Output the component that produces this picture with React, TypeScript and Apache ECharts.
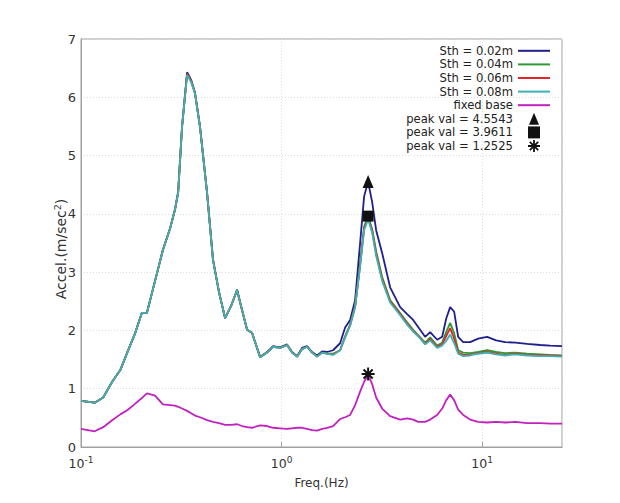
import React, { useEffect, useRef } from 'react';
import * as echarts from 'echarts';

// Frequencies (Hz)
const freqs = [
  0.1, 0.117, 0.129, 0.143, 0.157, 0.170, 0.186, 0.201, 0.213, 0.234,
  0.256, 0.278, 0.294, 0.305, 0.319, 0.338, 0.354, 0.370, 0.392, 0.425,
  0.455, 0.488, 0.523, 0.560, 0.600, 0.635, 0.673, 0.712, 0.781, 0.847,
  0.907, 0.983, 1.065, 1.128, 1.195, 1.265, 1.340, 1.419, 1.503, 1.592,
  1.686, 1.806, 1.957, 2.074, 2.196, 2.326, 2.463, 2.579, 2.700, 2.828,
  2.960, 3.171, 3.476, 3.900, 4.226, 4.528, 4.795, 5.196, 5.504, 5.965,
  6.318, 6.614, 6.924, 7.253, 7.592, 8.040, 8.711, 9.551, 10.59, 11.74,
  13.02, 14.61, 16.77, 19.47, 21.84, 25.0,
];

const sth002 = [
  0.79, 0.76, 0.85, 1.12, 1.32, 1.62, 1.95, 2.30, 2.30, 2.85,
  3.38, 3.75, 4.07, 4.38, 5.50, 6.43, 6.30, 6.08, 5.50, 4.37,
  3.22, 2.65, 2.21, 2.42, 2.70, 2.35, 2.01, 1.96, 1.55, 1.63,
  1.73, 1.71, 1.76, 1.63, 1.56, 1.70, 1.73, 1.63, 1.57, 1.64,
  1.63, 1.66, 1.78, 2.05, 2.18, 2.52, 3.50, 4.30, 4.55, 4.20,
  3.72, 3.33, 2.74, 2.40, 2.28, 2.18, 2.06, 1.89, 1.97, 1.84,
  1.89, 2.20, 2.40, 2.32, 1.89, 1.80, 1.80, 1.86, 1.89, 1.83,
  1.80, 1.79, 1.77, 1.75, 1.74, 1.73,
];

const sth004 = [
  0.79, 0.76, 0.85, 1.12, 1.32, 1.62, 1.95, 2.30, 2.30, 2.85,
  3.38, 3.75, 4.07, 4.36, 5.49, 6.40, 6.28, 6.07, 5.49, 4.36,
  3.21, 2.65, 2.21, 2.42, 2.69, 2.35, 2.01, 1.96, 1.54, 1.62,
  1.72, 1.70, 1.75, 1.62, 1.55, 1.68, 1.72, 1.62, 1.55, 1.62,
  1.60, 1.60, 1.66, 1.90, 2.10, 2.42, 3.15, 3.78, 3.96, 3.74,
  3.36, 2.92, 2.52, 2.30, 2.14, 2.01, 1.92, 1.79, 1.88, 1.74,
  1.79, 1.97, 2.13, 1.95, 1.66, 1.62, 1.61, 1.63, 1.66, 1.63,
  1.61, 1.62, 1.60, 1.59, 1.58, 1.57,
];

const sth006 = [
  0.79, 0.76, 0.85, 1.12, 1.32, 1.62, 1.95, 2.30, 2.30, 2.85,
  3.38, 3.75, 4.07, 4.36, 5.49, 6.40, 6.28, 6.07, 5.49, 4.36,
  3.21, 2.65, 2.21, 2.42, 2.69, 2.35, 2.01, 1.96, 1.54, 1.62,
  1.72, 1.70, 1.75, 1.62, 1.55, 1.68, 1.72, 1.62, 1.55, 1.62,
  1.60, 1.59, 1.66, 1.89, 2.09, 2.41, 3.12, 3.75, 3.93, 3.71,
  3.32, 2.88, 2.50, 2.28, 2.12, 1.99, 1.91, 1.77, 1.85, 1.72,
  1.76, 1.90, 2.04, 1.86, 1.62, 1.58, 1.58, 1.61, 1.63, 1.60,
  1.58, 1.60, 1.58, 1.57, 1.57, 1.56,
];

const sth008 = [
  0.79, 0.76, 0.85, 1.12, 1.32, 1.62, 1.95, 2.30, 2.30, 2.85,
  3.38, 3.75, 4.07, 4.36, 5.49, 6.38, 6.26, 6.07, 5.49, 4.36,
  3.21, 2.65, 2.21, 2.42, 2.69, 2.35, 2.01, 1.96, 1.54, 1.62,
  1.72, 1.70, 1.75, 1.62, 1.55, 1.68, 1.72, 1.62, 1.55, 1.62,
  1.60, 1.58, 1.66, 1.88, 2.08, 2.40, 3.10, 3.72, 3.90, 3.68,
  3.28, 2.85, 2.48, 2.26, 2.10, 1.98, 1.90, 1.76, 1.83, 1.70,
  1.74, 1.82, 1.93, 1.78, 1.60, 1.56, 1.57, 1.60, 1.62, 1.59,
  1.57, 1.59, 1.57, 1.56, 1.56, 1.55,
];

const fixedBase = [
  0.31, 0.27, 0.34, 0.46, 0.56, 0.63, 0.74, 0.84, 0.92, 0.88,
  0.73, 0.72, 0.71, 0.69, 0.66, 0.62, 0.58, 0.54, 0.51, 0.46,
  0.43, 0.41, 0.38, 0.38, 0.39, 0.36, 0.34, 0.33, 0.37, 0.36,
  0.33, 0.32, 0.31, 0.32, 0.33, 0.33, 0.31, 0.29, 0.28, 0.31,
  0.33, 0.36, 0.48, 0.51, 0.55, 0.72, 0.95, 1.12, 1.24, 1.08,
  0.85, 0.66, 0.53, 0.47, 0.49, 0.47, 0.43, 0.43, 0.47, 0.55,
  0.66, 0.80, 0.90, 0.80, 0.64, 0.55, 0.47, 0.43, 0.42, 0.43,
  0.42, 0.43, 0.41, 0.41, 0.40, 0.40,
];

const lineNames = ['Sth = 0.02m', 'Sth = 0.04m', 'Sth = 0.06m', 'Sth = 0.08m', 'fixed base'];
const lineColors = ['#1f1f90', '#2e9a34', '#e0262a', '#3cb2b4', '#c021c0'];
const lineValues = [sth002, sth004, sth006, sth008, fixedBase];

const peakFreq = 2.70;
const peakVals = [4.5543, 3.9611, 1.2525];
const peakNames = ['peak val = 4.5543', 'peak val = 3.9611', 'peak val = 1.2525'];

const LINE_ICON = 'path://M0,0 L32,0 L32,2 L0,2 Z';
const TRI = 'path://M5,0 L10,12 L0,12 Z';
const SQ = 'path://M0,0 L10,0 L10,10 L0,10 Z';
const AST =
  'path://M-1.5,-10 L1.5,-10 L1.5,10 L-1.5,10 Z M-10,-1.5 L10,-1.5 L10,1.5 L-10,1.5 Z ' +
  'M-8.06,-5.94 L-5.94,-8.06 L8.06,5.94 L5.94,8.06 Z M5.94,-8.06 L8.06,-5.94 L-5.94,8.06 L-8.06,5.94 Z';
const peakSymbols = [TRI, SQ, AST];
const peakSizes: any[] = [[11, 13], [11, 11], [13, 13]];

const FONT = 'DejaVu Sans, sans-serif';

export default function App() {
  const ref = useRef<HTMLDivElement>(null);
  useEffect(() => {
    document.body.style.margin = '0';
    const chart = echarts.init(ref.current!, null, { renderer: 'svg' });
    const series: any[] = lineNames.map((name, i) => ({
      name,
      type: 'line',
      symbol: 'none',
      data: freqs.map((f, j) => [f, lineValues[i][j]]),
      lineStyle: { color: lineColors[i], width: 1.8 },
      itemStyle: { color: lineColors[i] },
      z: 2 + i,
    }));
    peakNames.forEach((name, i) => {
      series.push({
        name,
        type: 'scatter',
        symbol: peakSymbols[i],
        symbolSize: peakSizes[i],
        symbolKeepAspect: false,
        data: [[peakFreq, peakVals[i]]],
        itemStyle: { color: '#111', opacity: 1 },
        z: 10,
      });
    });
    chart.setOption({
      animation: false,
      backgroundColor: '#fff',
      textStyle: { fontFamily: FONT },
      grid: {
        left: 81, right: 58, top: 39, bottom: 56,
        show: true, borderColor: '#a0a0a0', borderWidth: 1,
      },
      legend: {
        orient: 'vertical',
        right: 70,
        top: 44,
        align: 'right',
        padding: 0,
        itemGap: 0,
        itemWidth: 32,
        itemHeight: 12,
        selectedMode: false,
        symbolKeepAspect: true,
        textStyle: { fontSize: 11.6, lineHeight: 13.6, color: '#222', fontFamily: FONT },
        data: [
          ...lineNames.map((n) => ({ name: n, icon: LINE_ICON })),
          ...peakNames.map((n, i) => ({ name: n, icon: peakSymbols[i] })),
        ],
      },
      xAxis: {
        type: 'log',
        logBase: 10,
        min: 0.1,
        max: 25,
        name: 'Freq.(Hz)',
        nameLocation: 'middle',
        nameGap: 29,
        nameTextStyle: { fontSize: 12, color: '#333', fontFamily: FONT },
        axisLine: { show: true, lineStyle: { color: '#a0a0a0' } },
        axisTick: { show: true, inside: true, length: 5, lineStyle: { color: '#a0a0a0' } },
        minorTick: { show: false },
        splitLine: { show: true, lineStyle: { color: '#dcdcdc', type: [1, 2] } },
        axisLabel: {
          showMaxLabel: false,
          margin: 8,
          fontSize: 12.5,
          lineHeight: 17,
          color: '#333',
          fontFamily: FONT,
          formatter: (v: number) => '10{sup|' + Math.round(Math.log10(v)) + '}',
          rich: {
            sup: { fontSize: 9, lineHeight: 9, verticalAlign: 'top', color: '#333', fontFamily: FONT },
          },
        },
      },
      yAxis: {
        type: 'value',
        min: 0,
        max: 7,
        interval: 1,
        name: 'Accel.(m/sec{sup|2})',
        nameLocation: 'middle',
        nameRotate: 90,
        nameGap: 11,
        nameMoveOverlap: false,
        nameTextStyle: {
          fontSize: 14,
          lineHeight: 18,
          color: '#333',
          fontFamily: FONT,
          padding: [0, 12, 0, 0],
          rich: { sup: { fontSize: 9.5, lineHeight: 10, verticalAlign: 'top', color: '#333', fontFamily: FONT } },
        },
        axisLine: { show: true, lineStyle: { color: '#a0a0a0' } },
        axisTick: { show: false },
        splitLine: { show: true, lineStyle: { color: '#dcdcdc', type: [1, 2] } },
        axisLabel: { margin: 5, fontSize: 13, color: '#333', fontFamily: FONT },
      },
      series,
    });
    return () => chart.dispose();
  }, []);
  return <div ref={ref} style={{ width: 620, height: 503, background: '#fff' }} />;
}
